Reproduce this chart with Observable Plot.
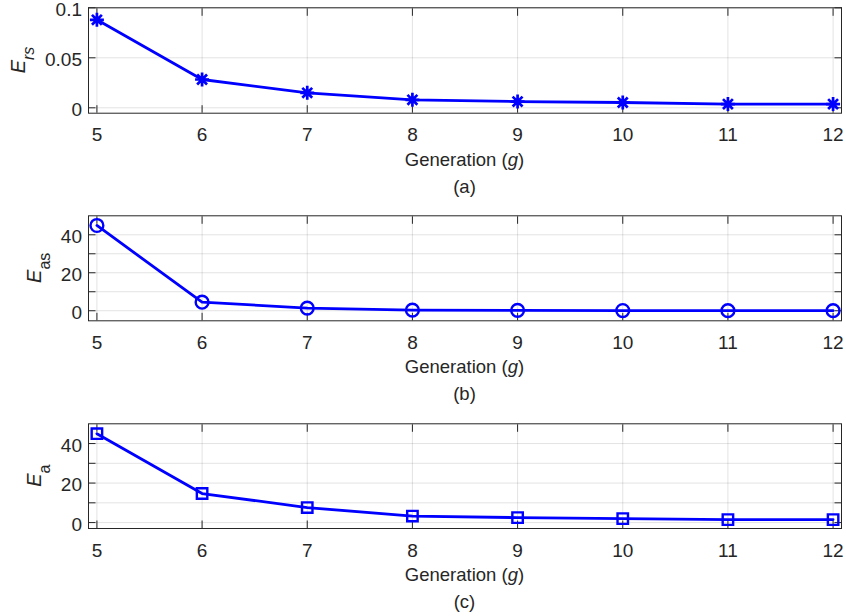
<!DOCTYPE html>
<html><head><meta charset="utf-8">
<script src="https://cdn.jsdelivr.net/npm/d3@7"></script>
<script src="https://cdn.jsdelivr.net/npm/@observablehq/plot@0.6"></script>
<style>
html,body{margin:0;padding:0;background:#fff;overflow:hidden;}
#chart svg{display:block;}
</style></head><body><div id="chart"></div>
<script>
// ---- data ----
const generations = [5, 6, 7, 8, 9, 10, 11, 12];
const ersValues = [0.088, 0.0283, 0.015, 0.008, 0.0062, 0.0053, 0.0037, 0.0037];
const easValues = [44.9, 4.5, 1.4, 0.3, 0.2, 0.1, 0.05, 0.05];
const eaValues = [45.0, 14.7, 7.6, 3.3, 2.5, 2.0, 1.5, 1.5];

const xTicks = [5, 6, 7, 8, 9, 10, 11, 12];
const ersTicks = [0, 0.05, 0.1];
const ersTickLabels = ["0", "0.05", "0.1"];
const easTicks = [0, 10, 20, 30, 40];
const easTickLabels = ["0", "", "20", "", "40"];
const eaTicks = [0, 10, 20, 30, 40];
const eaTickLabels = ["0", "", "20", "", "40"];

const xLabelMain = "Generation (";
const xLabelVar = "g";
const xLabelEnd = ")";
const captions = ["(a)", "(b)", "(c)"];
const yLabelMain = "E";
const yLabelSubs = ["rs", "as", "a"];

// ---- markers ----
const asterisk = {
  draw(ctx, size) {
    const r = Math.sqrt(size / Math.PI);
    const d = r * Math.SQRT1_2;
    ctx.moveTo(0, -r); ctx.lineTo(0, r);
    ctx.moveTo(-r, 0); ctx.lineTo(r, 0);
    ctx.moveTo(-d, -d); ctx.lineTo(d, d);
    ctx.moveTo(-d, d); ctx.lineTo(d, -d);
  }
};

const TEXT = "#262626";
const FONT = "'Liberation Sans', Arial, Helvetica, sans-serif";
const TICK_FS = 19;
const LABEL_FS = 18.5;

function panel(cfg) {
  const data = generations.map((g, i) => ({g, v: cfg.values[i]}));
  const fmt = (d) => {
    const i = cfg.yTicks.findIndex((t) => Math.abs(t - d) < 1e-9);
    return i >= 0 ? cfg.yTickLabels[i] : "";
  };
  const plot = Plot.plot({
    width: 846,
    height: cfg.height,
    marginTop: 7.3,
    marginBottom: cfg.marginBottom,
    marginLeft: 88,
    marginRight: 5,
    style: {fontFamily: FONT, fontSize: TICK_FS + "px", color: TEXT, background: "#fff", overflow: "visible"},
    x: {domain: [4.92, 12.08]},
    y: {domain: cfg.yDomain},
    marks: [
      Plot.gridX({ticks: xTicks, stroke: TEXT, strokeOpacity: 0.13}),
      Plot.gridY({ticks: cfg.yTicks, stroke: TEXT, strokeOpacity: 0.13}),
      // inward tick marks on all four sides
      Plot.axisX({ticks: xTicks, anchor: "bottom", tickSize: -7.5, tickFormat: () => "", label: null, stroke: TEXT}),
      Plot.axisX({ticks: xTicks, anchor: "top", tickSize: -7.5, tickFormat: () => "", label: null, stroke: TEXT}),
      Plot.axisY({ticks: cfg.yTicks, anchor: "left", tickSize: -7.5, tickFormat: () => "", label: null, stroke: TEXT}),
      Plot.axisY({ticks: cfg.yTicks, anchor: "right", tickSize: -7.5, tickFormat: () => "", label: null, stroke: TEXT}),
      // tick labels
      Plot.axisX({ticks: xTicks, anchor: "bottom", tickSize: 0, tickPadding: 14.5, tickFormat: (d) => String(d), label: null, fontSize: TICK_FS}),
      Plot.axisY({ticks: cfg.yTicks, anchor: "left", tickSize: 0, tickPadding: 6.5, dy: 2.2, tickFormat: fmt, label: null, fontSize: TICK_FS}),
      Plot.line(data, {x: "g", y: "v", stroke: "#0000ff", strokeWidth: 2.8}),
      Plot.dot(data, {x: "g", y: "v", symbol: cfg.symbol, r: cfg.r, stroke: "#0000ff", strokeWidth: cfg.sw, fill: "none"}),
      Plot.frame({stroke: TEXT, strokeWidth: 1})
    ]
  });
  const svg = d3.select(plot.tagName.toLowerCase() === "svg" ? plot : plot.querySelector("svg"));
  const xr = plot.scale("x").range;
  const yr = plot.scale("y").range;
  const cx = (xr[0] + xr[1]) / 2;
  const cy = (yr[0] + yr[1]) / 2;
  const frameBottom = Math.max(yr[0], yr[1]);

  const xl = svg.append("text")
    .attr("x", cx).attr("y", frameBottom + 53)
    .attr("text-anchor", "middle").attr("fill", TEXT)
    .attr("font-family", FONT).attr("font-size", LABEL_FS);
  xl.append("tspan").text(xLabelMain);
  xl.append("tspan").attr("font-style", "italic").text(xLabelVar);
  xl.append("tspan").text(xLabelEnd);

  svg.append("text")
    .attr("x", cx).attr("y", frameBottom + 80)
    .attr("text-anchor", "middle").attr("fill", TEXT)
    .attr("font-family", FONT).attr("font-size", LABEL_FS)
    .text(cfg.caption);

  const yl = svg.append("text")
    .attr("transform", `translate(${cfg.yLabelX},${cy}) rotate(-90)`)
    .attr("text-anchor", "middle").attr("fill", TEXT)
    .attr("font-family", FONT).attr("font-size", 20);
  yl.append("tspan").attr("font-style", "italic").text(yLabelMain);
  yl.append("tspan").attr("font-size", 16).attr("dy", 9)
    .attr("font-style", cfg.subItalic ? "italic" : "normal").text(cfg.sub);

  document.getElementById("chart").appendChild(plot);
}

panel({values: ersValues, yDomain: [-0.0054, 0.1], yTicks: ersTicks, yTickLabels: ersTickLabels,
  symbol: asterisk, r: 7, sw: 2.7, height: 208, marginBottom: 95.3, yLabelX: 25, sub: yLabelSubs[0], subItalic: true, caption: captions[0]});
panel({values: easValues, yDomain: [-5.3, 50], yTicks: easTicks, yTickLabels: easTickLabels,
  symbol: "circle", r: 6.4, sw: 2.4, height: 208, marginBottom: 95.7, yLabelX: 41, sub: yLabelSubs[1], subItalic: false, caption: captions[1]});
panel({values: eaValues, yDomain: [-3, 50], yTicks: eaTicks, yTickLabels: eaTickLabels,
  symbol: "square", r: 5.9, sw: 2.4, height: 200, marginBottom: 88, yLabelX: 41, sub: yLabelSubs[2], subItalic: false, caption: captions[2]});
</script>
</body></html>
